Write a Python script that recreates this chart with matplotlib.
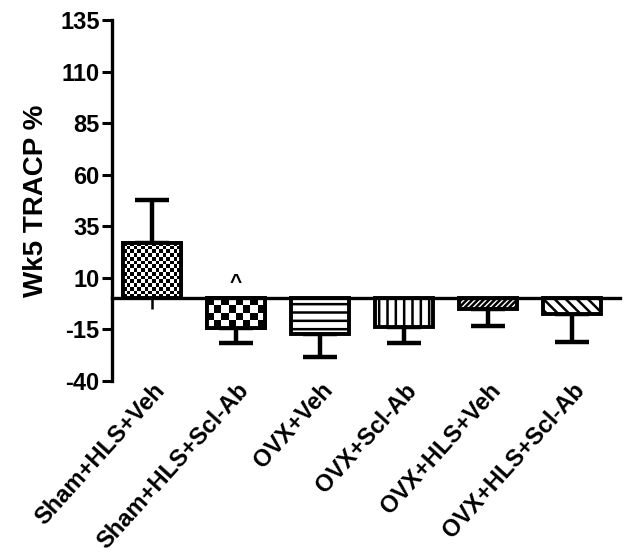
import numpy as np
import matplotlib
matplotlib.use("Agg")
import matplotlib.pyplot as plt
import matplotlib.transforms as mtransforms

# data
groups = ["Sham+HLS+Veh", "Sham+HLS+Scl-Ab", "OVX+Veh",
          "OVX+Scl-Ab", "OVX+HLS+Veh", "OVX+HLS+Scl-Ab"]
means = [26.9, -14.3, -17.0, -13.7, -5.2, -7.5]
sems = [20.8, 7.2, 11.2, 7.7, 8.1, 13.4]
yticks = [-40, -15, 10, 35, 60, 85, 110, 135]
# fill style per bar: ("checker", cell px) or hatch string
fills = [("checker", 3.6), ("checker", 7.2), "--", "||", "//////", "\\\\\\"]

plt.rcParams['font.family'] = ['Liberation Sans', 'DejaVu Sans']
plt.rcParams['font.weight'] = 'bold'
plt.rcParams['hatch.linewidth'] = 1.8
plt.rcParams['axes.unicode_minus'] = False

W, H = 624, 555
fig = plt.figure(figsize=(W / 100, H / 100), dpi=100)
ax = fig.add_axes([112 / W, 1 - 381 / H, 508 / W, 361 / H])

x = np.arange(len(groups))
bw = 0.68
xlim = (-0.476, 5.571)
ylim = (yticks[0], yticks[-1])

# error bars only away from zero
lower = [s if m < 0 else 0 for m, s in zip(means, sems)]
upper = [s if m >= 0 else 0 for m, s in zip(means, sems)]
ax.errorbar(x, means, yerr=[lower, upper], fmt='none', ecolor='black',
            elinewidth=3.2, capsize=12, capthick=3.2, zorder=1)

bars = ax.bar(x, means, width=bw, color='white', edgecolor='black',
              linewidth=2.8, zorder=2)

# pixel scale for the checker patterns
px_x = 508 / (xlim[1] - xlim[0])
px_y = 361 / (ylim[1] - ylim[0])

for b, f in zip(bars, fills):
    if isinstance(f, tuple):
        cell = f[1]
        x0, w = b.get_x(), b.get_width()
        y0, h = b.get_y(), b.get_height()
        ncol = max(1, int(round(w * px_x / cell)))
        nrow = max(1, int(round(abs(h) * px_y / cell)))
        chk = (np.indices((nrow, ncol)).sum(axis=0) % 2).astype(float)
        ylo, yhi = min(y0, y0 + h), max(y0, y0 + h)
        im = ax.imshow(chk, cmap='gray', extent=(x0, x0 + w, ylo, yhi),
                       aspect='auto', interpolation='nearest', zorder=2.1)
        im.set_clip_path(b)
        # redraw the outline over the pattern
        ax.bar(b.get_x() + w / 2, h, width=w, color='none', edgecolor='black',
               linewidth=2.8, zorder=2.2)
    else:
        b.set_hatch(f)

ax.set_xlim(*xlim)
ax.set_ylim(*ylim)

# caret over Sham+HLS+Scl-Ab
ax.text(x[1], means[1] + 22, "^", ha='center', va='center', fontsize=15,
        fontweight='bold')

# axes styling
for s in ['top', 'right']:
    ax.spines[s].set_visible(False)
ax.spines['left'].set_linewidth(2.4)
ax.spines['bottom'].set_position(('data', 0))
ax.spines['bottom'].set_linewidth(2.4)
ax.spines['bottom'].set_zorder(3)
ax.set_yticks(yticks)
ax.tick_params(axis='y', direction='out', length=7, width=2.2,
               labelsize=17, pad=2)
ax.set_xticks(x)
ax.tick_params(axis='x', direction='out', length=8, width=1.8,
               labelbottom=False)
for t in ax.get_yticklabels():
    t.set_fontweight('bold')

ax.set_ylabel("Wk5 TRACP %", fontsize=20, fontweight='bold', labelpad=8)

# category labels at the bottom of the axes
sec = ax.secondary_xaxis(0.0)
sec.set_xticks(x)
sec.set_xticklabels(groups, rotation=48, ha='right', va='center',
                    rotation_mode='anchor', fontsize=17, fontweight='bold')
sec.spines['bottom'].set_visible(False)
sec.tick_params(axis='x', length=0, pad=4)
offset = mtransforms.ScaledTranslation(9 / 100, 0, fig.dpi_scale_trans)
for t in sec.get_xticklabels():
    t.set_transform(t.get_transform() + offset)

fig.savefig("out.png", dpi=100)
